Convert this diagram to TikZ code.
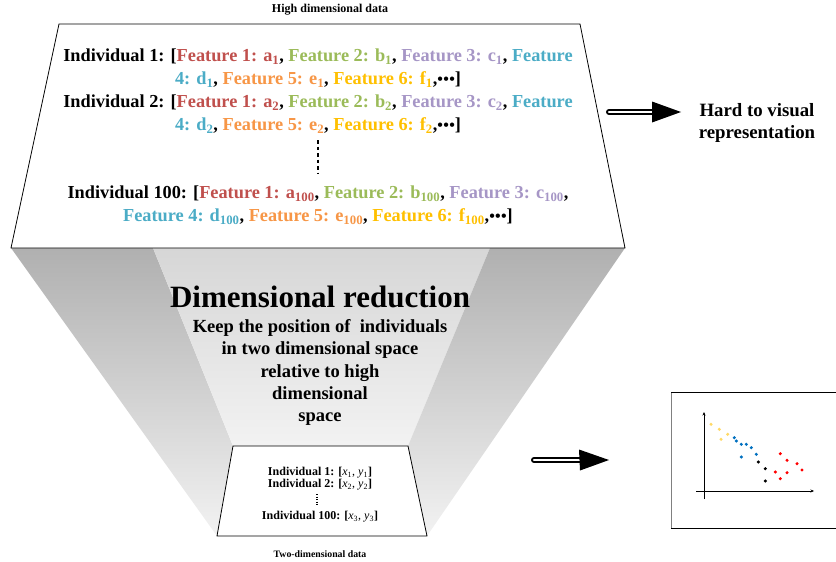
\documentclass[tikz,border=0pt]{standalone}
\usepackage{fontspec}
\setmainfont{Liberation Serif}
\usetikzlibrary{arrows.meta}
\definecolor{fta}{HTML}{C0504D}
\definecolor{ftb}{HTML}{9BBB59}
\definecolor{ftc}{HTML}{A696C6}
\definecolor{ftd}{HTML}{4BACC6}
\definecolor{fte}{HTML}{F79646}
\definecolor{ftf}{HTML}{FFC000}
\definecolor{dotyel}{HTML}{FFD966}
\definecolor{dotblu}{HTML}{0070C0}
\definecolor{dotred}{HTML}{FF0000}
\newcommand\FtA[1]{\textcolor{fta}{#1}}
\newcommand\FtB[1]{\textcolor{ftb}{#1}}
\newcommand\FtC[1]{\textcolor{ftc}{#1}}
\newcommand\FtD[1]{\textcolor{ftd}{#1}}
\newcommand\FtE[1]{\textcolor{fte}{#1}}
\newcommand\FtF[1]{\textcolor{ftf}{#1}}
\newcommand\sbx[1]{\textsubscript{#1}}
\newcommand\mydots{{\fontsize{16}{16}\selectfont\textbullet\kern0.02em\textbullet\kern0.02em\textbullet}}
\tikzset{
  bigtxt/.style={font=\bfseries\fontsize{18.3}{23}\selectfont, align=center, inner sep=0pt},
  smalltxt/.style={font=\bfseries\fontsize{12}{12}\selectfont, align=center, inner sep=0pt},
  captxt/.style={font=\bfseries\fontsize{9.8}{11}\selectfont, inner sep=0pt},
  midtxt/.style={font=\bfseries\fontsize{18.5}{22.2}\selectfont, align=center, inner sep=0pt},
  panel/.style={draw=black, line width=0.8pt, fill=white},
  sidepanel/.style={top color=black!31, bottom color=black!5},
  midpanel/.style={top color=black!16, bottom color=black!5},
  pt/.style={radius=1.7pt},
  axis/.style={line width=0.5pt, -{Stealth[length=3.5pt,width=3pt]}},
}
\begin{document}
\begin{tikzpicture}[x=1pt,y=-1pt]
\useasboundingbox (0,0) rectangle (836,562);
% funnel
\shade[sidepanel] (11,248) -- (153,248) -- (233,446) -- (217,536) -- cycle;
\shade[midpanel] (153,248) -- (490,248) -- (408,446) -- (233,446) -- cycle;
\shade[sidepanel] (490,248) -- (625,248) -- (427,536) -- (408,446) -- cycle;
% big panel
\draw[panel] (59,24) -- (580,24) -- (625,248) -- (11,248) -- cycle;
% small panel
\draw[panel] (233,446) -- (408,446) -- (427,536) -- (217,536) -- cycle;

\node[captxt, font=\bfseries\fontsize{12}{13}\selectfont] (hdd) at (330,10) {High dimensional data};
\node[bigtxt] (ind1) at (318,68) {Individual 1: [\FtA{Feature 1: a\sbx{1}}, \FtB{Feature 2: b\sbx{1}}, \FtC{Feature 3: c\sbx{1}}, \FtD{Feature}\\
\FtD{4: d\sbx{1}}, \FtE{Feature 5: e\sbx{1}}, \FtF{Feature 6: f\sbx{1}},\mydots]};
\node[bigtxt] (ind2) at (318,114) {Individual 2: [\FtA{Feature 1: a\sbx{2}}, \FtB{Feature 2: b\sbx{2}}, \FtC{Feature 3: c\sbx{2}}, \FtD{Feature}\\
\FtD{4: d\sbx{2}}, \FtE{Feature 5: e\sbx{2}}, \FtF{Feature 6: f\sbx{2}},\mydots]};
\draw[line width=2.4pt, dash pattern=on 3.5pt off 3pt] (318,140) -- (318,173);
\node[bigtxt] (ind100) at (318,205) {Individual 100: [\FtA{Feature 1: a\sbx{100}}, \FtB{Feature 2: b\sbx{100}}, \FtC{Feature 3: c\sbx{100}},\\
\FtD{Feature 4: d\sbx{100}}, \FtE{Feature 5: e\sbx{100}}, \FtF{Feature 6: f\sbx{100}},\mydots]};

% arrow 1
\coordinate (a1s) at (609,112);
\coordinate (a1m) at (653,112);
\coordinate (a1e) at (681,112);
\draw[line width=6pt, line cap=round] (a1s) -- (a1m);
\draw[white, line width=2.4pt, line cap=round] (a1s) -- (a1m);
\fill (a1m) ++(-1,-10.5) -- (a1e) -- ++(-29,10.5) -- cycle;
\node[bigtxt, font=\bfseries\fontsize{18.8}{22}\selectfont] (hard) at (757,123) {Hard to visual\\representation};

% middle text
\node[font=\bfseries\fontsize{31}{34}\selectfont, inner sep=0pt] (dr) at (320,297) {Dimensional reduction};
\node[midtxt] (keep) at (320,372.5) {Keep the position of \ individuals\\in two dimensional space\\relative to high\\dimensional\\space};

% small text
\node[smalltxt] (s1) at (320,473) {Individual 1: [\textmd{\textit{x}\sbx{1}, \textit{y}\sbx{1}}]};
\node[smalltxt] (s2) at (320,485) {Individual 2: [\textmd{\textit{x}\sbx{2}, \textit{y}\sbx{2}}]};
\draw[line width=1.4pt, dash pattern=on 1.3pt off 1.2pt] (317,494) -- (317,506);
\node[smalltxt] (s100) at (320,517) {Individual 100: [\textmd{\textit{x}\sbx{3}, \textit{y}\sbx{3}}]};
\node[captxt] (tdd) at (320,554) {Two-dimensional data};

% arrow 2
\coordinate (a2s) at (534,460);
\coordinate (a2m) at (580,460);
\coordinate (a2e) at (609,460);
\draw[line width=6pt, line cap=round] (a2s) -- (a2m);
\draw[white, line width=2.4pt, line cap=round] (a2s) -- (a2m);
\fill (a2m) ++(-1,-10.5) -- (a2e) -- ++(-29,10.5) -- cycle;

% plot
\draw[line width=0.7pt] (671,392) rectangle (845,528);
\draw[black!50, line width=1pt] (671.5,392.5) -- (671.5,527.5);
\coordinate (ox) at (696,491);
\coordinate (xe) at (814,491);
\coordinate (oy) at (704,499);
\coordinate (ye) at (704,412);
\draw[axis] (ox) -- (xe);
\draw[axis] (oy) -- (ye);
\foreach \p in {(711,424.3),(719.3,429.3),(721,439.3),(727.7,434.3)} \fill[dotyel] \p circle[pt];
\foreach \p in {(734.3,437.7),(736.3,441),(741.3,444.3),(746.3,444.3),(751.3,447.7),(756.3,454.3),(741.3,457)} \fill[dotblu] \p circle[pt];
\foreach \p in {(758.3,462),(765.3,468.7),(765.3,481)} \fill[black] \p circle[pt];
\foreach \p in {(780.3,453.7),(787,460.3),(775.3,472),(787,472.7),(780.3,478.7),(797,463.7),(802,470)} \fill[dotred] \p circle[pt];
\end{tikzpicture}
\end{document}
